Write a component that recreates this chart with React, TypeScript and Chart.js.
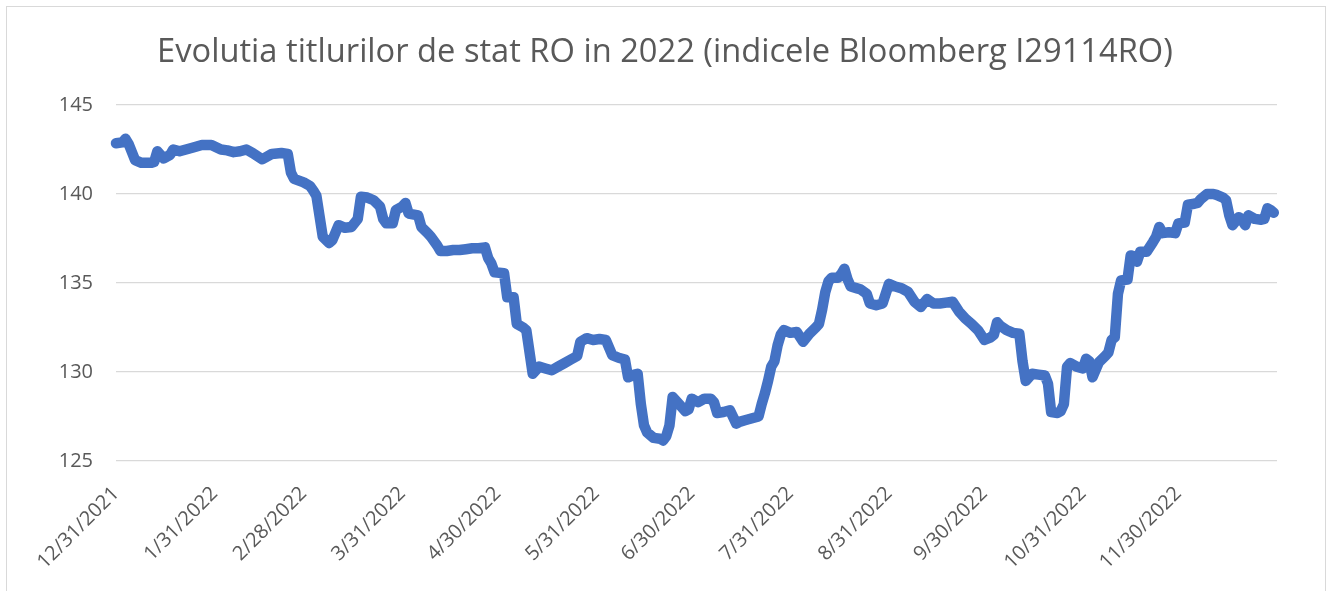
import React, { useEffect, useRef } from "react";
import { Chart, registerables } from "chart.js";

Chart.register(...registerables);

const TITLE = "Evolutia titlurilor de stat RO in 2022 (indicele Bloomberg I29114RO)";

// days elapsed since 12/31/2021
const dayOffsets = [
  0, 2, 3, 4, 6, 8, 11, 12, 13, 15, 17, 18, 20, 22, 24, 27, 30, 33, 35, 37, 39, 41, 43, 46, 49, 52, 54, 55, 56, 59,
  61, 62, 63, 65, 67, 68, 70, 72, 74, 76, 77, 79, 81, 83, 84, 85, 87, 88, 90, 91, 92, 95, 96, 98, 99, 101, 102, 104, 106, 108,
  110, 112, 114, 116, 117, 118, 119, 122, 123, 125, 126, 128, 129, 131, 133, 135, 137, 139, 141, 143, 145, 146, 148, 150, 152, 154, 156, 158, 160, 161,
  163, 164, 165, 166, 167, 169, 171, 172, 173, 174, 175, 176, 177, 179, 180, 181, 183, 185, 187, 188, 189, 191, 193, 195, 196, 198, 200, 202, 203, 204,
  205, 206, 207, 208, 209, 210, 212, 214, 216, 218, 220, 221, 222, 223, 224, 225, 227, 228, 229, 230, 231, 233, 234, 236, 237, 239, 241, 242, 243, 245,
  247, 249, 251, 253, 255, 257, 259, 261, 263, 265, 267, 269, 271, 273, 275, 276, 277, 278, 280, 282, 284, 285, 286, 288, 290, 292, 293, 294, 296, 297,
  298, 299, 300, 302, 304, 305, 306, 307, 309, 311, 312, 313, 314, 315, 316, 318, 319, 320, 321, 322, 324, 326, 327, 328, 329, 331, 333, 334, 336, 337,
  339, 340, 341, 343, 345, 346, 348, 349, 350, 351, 353, 354, 355, 356, 358, 360, 361, 362, 363, 364,
];

// Bloomberg I29114RO index level
const indexValues = [
  142.85, 142.9, 143.1, 142.8, 141.9, 141.75, 141.75, 141.8, 142.4, 142.0, 142.2, 142.5, 142.4, 142.5, 142.6, 142.75, 142.75, 142.5, 142.45, 142.35, 142.4, 142.5, 142.3, 141.95, 142.25, 142.3, 142.25, 141.2, 140.85, 140.65,
  140.45, 140.2, 139.9, 137.6, 137.25, 137.4, 138.25, 138.1, 138.15, 138.6, 139.85, 139.8, 139.65, 139.3, 138.6, 138.35, 138.35, 139.1, 139.3, 139.5, 138.9, 138.8, 138.15, 137.8, 137.6, 137.1, 136.8, 136.8, 136.85, 136.85,
  136.9, 136.95, 136.95, 137.0, 136.4, 136.1, 135.6, 135.55, 134.2, 134.2, 132.7, 132.5, 132.35, 129.9, 130.3, 130.2, 130.1, 130.3, 130.5, 130.7, 130.9, 131.7, 131.9, 131.8, 131.85, 131.8, 130.95, 130.8, 130.7, 129.7,
  129.85, 129.9, 128.2, 127.0, 126.6, 126.3, 126.25, 126.15, 126.4, 127.0, 128.6, 128.4, 128.2, 127.8, 127.9, 128.5, 128.3, 128.5, 128.5, 128.3, 127.7, 127.75, 127.85, 127.1, 127.2, 127.3, 127.4, 127.5, 128.2, 128.8,
  129.5, 130.3, 130.6, 131.5, 132.1, 132.35, 132.2, 132.25, 131.7, 132.15, 132.5, 132.7, 133.5, 134.5, 135.1, 135.3, 135.3, 135.5, 135.8, 135.2, 134.8, 134.7, 134.65, 134.4, 133.85, 133.75, 133.85, 134.4, 134.95, 134.8,
  134.7, 134.5, 133.95, 133.65, 134.1, 133.85, 133.85, 133.9, 133.95, 133.4, 133.0, 132.7, 132.35, 131.8, 131.95, 132.1, 132.8, 132.6, 132.35, 132.2, 132.15, 130.6, 129.5, 129.9, 129.85, 129.8, 129.35, 127.75, 127.7, 127.8,
  128.2, 130.3, 130.5, 130.3, 130.2, 130.75, 130.6, 129.7, 130.55, 130.9, 131.1, 131.8, 131.95, 134.4, 135.15, 135.2, 136.55, 136.5, 136.2, 136.75, 136.75, 137.3, 137.6, 138.15, 137.8, 137.85, 137.8, 138.35, 138.4, 139.4,
  139.45, 139.5, 139.7, 140.0, 140.0, 139.95, 139.8, 139.65, 138.8, 138.25, 138.7, 138.55, 138.25, 138.8, 138.6, 138.55, 138.6, 139.2, 139.1, 138.95,
];

const tickDays = [0, 31, 59, 90, 120, 151, 181, 212, 243, 273, 304, 334];
const tickLabels = [
  "12/31/2021", "1/31/2022", "2/28/2022", "3/31/2022", "4/30/2022", "5/31/2022",
  "6/30/2022", "7/31/2022", "8/31/2022", "9/30/2022", "10/31/2022", "11/30/2022",
];
const yTicks = [125, 130, 135, 140, 145];

const FONT = "'Open Sans', 'Noto Sans', sans-serif";
const TEXT = "#595959";

const titlePlugin = {
  id: "excelTitle",
  afterDraw(chart: any) {
    const ctx = chart.ctx as CanvasRenderingContext2D;
    ctx.save();
    ctx.font = `normal 32px ${FONT}`;
    const w = ctx.measureText(TITLE).width;
    const size = (32 * 1016) / w;
    ctx.font = `normal ${size.toFixed(2)}px ${FONT}`;
    ctx.fillStyle = TEXT;
    ctx.textAlign = "center";
    ctx.textBaseline = "alphabetic";
    ctx.fillText(TITLE, 665, 62);
    ctx.restore();
  },
};

export default function App() {
  const ref = useRef<HTMLCanvasElement>(null);

  useEffect(() => {
    const chart = new Chart(ref.current as HTMLCanvasElement, {
      type: "line",
      data: {
        datasets: [
          {
            data: dayOffsets.map((d, i) => ({ x: d, y: indexValues[i] })),
            borderColor: "#4472C4",
            backgroundColor: "#4472C4",
            borderWidth: 10.5,
            pointRadius: 0,
            borderCapStyle: "round",
            borderJoinStyle: "round",
            tension: 0,
            fill: false,
            clip: false as any,
          },
        ],
      },
      plugins: [titlePlugin],
      options: {
        responsive: false,
        animation: false,
        events: [],
        layout: { padding: { top: 105, right: 49, bottom: 0, left: 0 } },
        plugins: {
          legend: { display: false },
          tooltip: { enabled: false },
          title: { display: false },
        },
        scales: {
          x: {
            type: "linear",
            min: 0,
            max: 365,
            grid: { display: false, drawTicks: false },
            border: { display: false },
            afterBuildTicks: (s: any) => {
              s.ticks = tickDays.map((v) => ({ value: v }));
            },
            afterFit: (s: any) => {
              s.height = 130;
            },
            ticks: {
              autoSkip: false,
              minRotation: 45,
              maxRotation: 45,
              color: TEXT,
              font: { family: FONT, size: 20 },
              padding: 21,
              callback: (v: any) => {
                const i = tickDays.indexOf(Number(v));
                return i >= 0 ? tickLabels[i] : "";
              },
            },
          },
          y: {
            min: 125,
            max: 145,
            afterBuildTicks: (s: any) => {
              s.ticks = yTicks.map((v) => ({ value: v }));
            },
            afterFit: (s: any) => {
              s.width = 116;
            },
            grid: { color: "#d9d9d9", lineWidth: 1.3, drawTicks: false },
            border: { display: false },
            ticks: { color: TEXT, font: { family: FONT, size: 20 }, padding: 23 },
          },
        },
      },
    });
    return () => chart.destroy();
  }, []);

  return (
    <div style={{ position: "fixed", left: 0, top: 0, width: 1326, height: 591, background: "#fff", overflow: "hidden" }}>
      <div
        style={{
          position: "absolute",
          left: 6,
          top: 6,
          width: 1318,
          height: 640,
          border: "1px solid #d9d9d9",
        }}
      />
      <canvas ref={ref} width={1326} height={591} style={{ position: "absolute", left: 0, top: 0 }} />
    </div>
  );
}
